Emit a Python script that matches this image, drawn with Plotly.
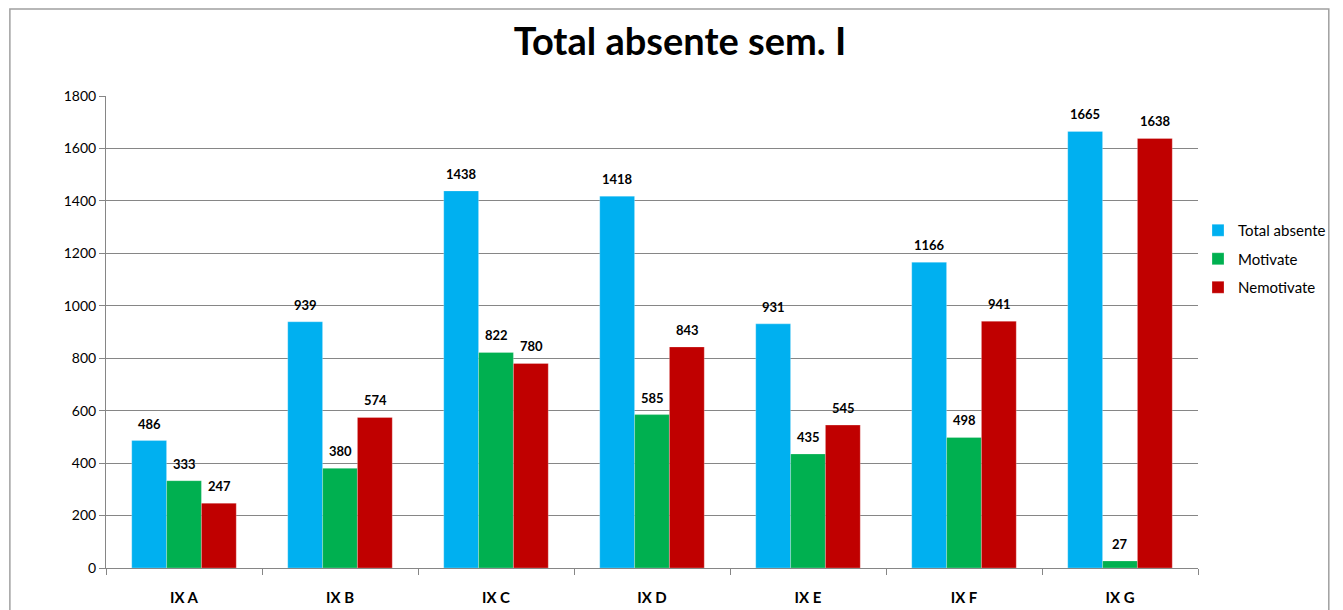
import plotly.graph_objects as go

categories = ["IX A", "IX B", "IX C", "IX D", "IX E", "IX F", "IX G"]
total_absente = [486, 939, 1438, 1418, 931, 1166, 1665]
motivate = [333, 380, 822, 585, 435, 498, 27]
nemotivate = [247, 574, 780, 843, 545, 941, 1638]

# page has an 8px body margin, so the figure is a bit smaller than the window
W, H = 1335, 602
ML, MR, MT, MB = 98, 135, 88, 42
FONT = "Lato, Calibri, Carlito, sans-serif"

series = [
    (total_absente, "Total absente", "#00B0F0", -35),
    (motivate, "Motivate", "#00B050", 0),
    (nemotivate, "Nemotivate", "#C00000", 35),
]

fig = go.Figure()
for vals, name, color, dx in series:
    fig.add_trace(go.Bar(
        x=categories, y=vals, name=name, legendgroup=name,
        marker=dict(color=color, line=dict(color="rgba(255,255,255,0.5)", width=0.5)),
    ))
    # data labels a little above the bar tops
    for c, v in zip(categories, vals):
        fig.add_annotation(
            x=c, y=v, text=f"<b>{v}</b>", showarrow=False,
            xshift=dx, yshift=7, yanchor="bottom",
            font=dict(family=FONT, size=13, color="#000000"),
        )

fig.update_layout(
    width=W, height=H,
    barmode="group", bargap=0.33, bargroupgap=0,
    title=dict(text="<b>Total absente sem. I</b>", x=672 / W, xanchor="center",
               y=1 - 34 / H, yanchor="middle",
               font=dict(family=FONT, size=38, color="#000000")),
    paper_bgcolor="white", plot_bgcolor="white",
    font=dict(family=FONT, size=13, color="#000000"),
    margin=dict(l=ML, r=MR, t=MT, b=MB),
    legend=dict(x=1.0, y=0.75, xanchor="left", yanchor="top",
                font=dict(family=FONT, size=15, color="#000000"),
                itemwidth=30, tracegroupgap=6, bgcolor="rgba(0,0,0,0)"),
    showlegend=True,
)
fig.update_xaxes(
    automargin=False,
    showline=True, linecolor="#868686", linewidth=1,
    ticks="outside", tickson="boundaries", ticklen=6, tickcolor="#868686",
    tickfont=dict(family=FONT, size=15, color="#000000", weight="bold"),
    ticklabelstandoff=16, showgrid=False,
)
fig.update_yaxes(
    automargin=False,
    range=[0, 1800], dtick=200, showgrid=True, gridcolor="#868686", gridwidth=1,
    showline=True, linecolor="#868686", linewidth=1,
    ticks="outside", ticklen=6, tickcolor="#868686",
    tickfont=dict(family=FONT, size=14, color="#000000"),
    zeroline=False,
)
# outer chart border
pw = W - ML - MR
ph = H - MT - MB
fig.add_shape(type="rect", xref="paper", yref="paper",
              x0=-(ML - 1) / pw, x1=(W - 3 - ML) / pw,
              y0=-(MB + 20) / ph, y1=(ph + MT - 1) / ph,
              line=dict(color="#A0A0A0", width=1.5), layer="below")

fig.write_html("out.html")
